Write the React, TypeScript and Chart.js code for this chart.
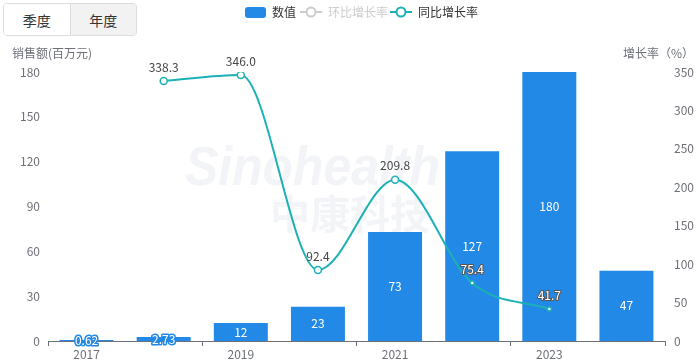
import React, { useEffect, useRef } from "react";
import { Chart, registerables } from "chart.js";

Chart.register(...registerables);

const categories = ["2017", "2018", "2019", "2020", "2021", "2022", "2023", "2024"];
const salesValues = [0.62, 2.73, 12, 23, 73, 127, 180, 47];
const yoyGrowth: (number | null)[] = [null, 338.3, 346.0, 92.4, 209.8, 75.4, 41.7, null];
const momGrowth: (number | null)[] = [null, null, null, null, null, null, null, null];
const leftAxis = { min: 0, max: 180, step: 30, title: "销售额(百万元)" };
const rightAxis = { min: 0, max: 350, step: 50, title: "增长率（%）" };
const legendLabels = ["数值", "环比增长率", "同比增长率"];
const periodButtons = ["季度", "年度"];

const BAR_COLOR = "#2389e6";
const LINE_COLOR = "#1cb1b6";
const MUTED = "#cccccc";
const FONT = "'Noto Sans CJK SC', 'Noto Sans', sans-serif";
const TICK_COLOR = "#6e7079";

const overlayPlugin = {
  id: "overlay",
  beforeDatasetsDraw(chart: any) {
    const { ctx } = chart;
    ctx.save();
    ctx.fillStyle = "rgba(210, 216, 228, 0.28)";
    ctx.textAlign = "left";
    ctx.textBaseline = "alphabetic";
    ctx.font = `italic bold 56px 'Liberation Sans', Arial, sans-serif`;
    ctx.fillText("Sinohealth", 185, 185, 255);
    ctx.font = `bold 40px ${FONT}`;
    ctx.fillText("中康科技", 270, 229, 167);
    ctx.restore();
  },
  afterDatasetsDraw(chart: any) {
    const { ctx } = chart;
    ctx.save();
    ctx.font = `12px ${FONT}`;
    ctx.textAlign = "center";
    ctx.lineJoin = "round";
    // bar labels
    const barMeta = chart.getDatasetMeta(0);
    const barTops: number[] = [];
    barMeta.data.forEach((el: any, i: number) => {
      const v = salesValues[i];
      barTops[i] = el.y;
      const cy = (el.y + el.base) / 2;
      ctx.textBaseline = "middle";
      ctx.lineWidth = 3;
      ctx.strokeStyle = BAR_COLOR;
      ctx.strokeText(String(v), el.x, cy);
      ctx.fillStyle = "#ffffff";
      ctx.fillText(String(v), el.x, cy);
    });
    // line labels
    const lineMeta = chart.getDatasetMeta(2);
    lineMeta.data.forEach((el: any, i: number) => {
      const v = yoyGrowth[i];
      if (v == null) return;
      const ly = el.y - 8;
      ctx.textBaseline = "bottom";
      if (barTops[i] !== undefined && barTops[i] < ly - 12) {
        ctx.lineWidth = 2;
        ctx.strokeStyle = "#555555";
        ctx.strokeText(v.toFixed(1), el.x, ly);
        ctx.fillStyle = "#ffffff";
        ctx.fillText(v.toFixed(1), el.x, ly);
      } else {
        ctx.fillStyle = "#444444";
        ctx.fillText(v.toFixed(1), el.x, ly);
      }
    });
    ctx.restore();
  },
  afterDraw(chart: any) {
    const { ctx } = chart;
    ctx.save();
    ctx.font = `12px ${FONT}`;
    ctx.textBaseline = "middle";
    // axis titles
    ctx.fillStyle = TICK_COLOR;
    ctx.textAlign = "left";
    ctx.fillText(leftAxis.title, 12, 53);
    ctx.textAlign = "right";
    ctx.fillText(rightAxis.title, 694, 53);
    // legend
    const ly = 12;
    ctx.textAlign = "left";
    ctx.fillStyle = BAR_COLOR;
    ctx.beginPath();
    (ctx as any).roundRect(245, 7, 21, 11, 3);
    ctx.fill();
    ctx.fillStyle = "#333333";
    ctx.fillText(legendLabels[0], 272, ly);
    const drawLineIcon = (x: number, color: string) => {
      ctx.strokeStyle = color;
      ctx.lineWidth = 2;
      ctx.beginPath();
      ctx.moveTo(x, ly);
      ctx.lineTo(x + 22, ly);
      ctx.stroke();
      ctx.beginPath();
      ctx.arc(x + 11, ly, 4.5, 0, Math.PI * 2);
      ctx.fillStyle = "#ffffff";
      ctx.fill();
      ctx.stroke();
    };
    drawLineIcon(300, MUTED);
    ctx.fillStyle = MUTED;
    ctx.fillText(legendLabels[1], 328, ly);
    drawLineIcon(390, LINE_COLOR);
    ctx.fillStyle = "#333333";
    ctx.fillText(legendLabels[2], 418, ly);
    ctx.restore();
  },
};

export default function App() {
  const canvasRef = useRef<HTMLCanvasElement | null>(null);

  useEffect(() => {
    if (!canvasRef.current) return;
    const chart = new Chart(canvasRef.current, {
      type: "bar",
      data: {
        labels: categories,
        datasets: [
          {
            type: "bar",
            label: legendLabels[0],
            data: salesValues,
            backgroundColor: BAR_COLOR,
            barPercentage: 0.7,
            categoryPercentage: 1,
            yAxisID: "y",
            order: 3,
          } as any,
          {
            type: "line",
            label: legendLabels[1],
            data: momGrowth,
            hidden: true,
            borderColor: MUTED,
            yAxisID: "y1",
            order: 2,
          } as any,
          {
            type: "line",
            label: legendLabels[2],
            data: yoyGrowth,
            borderColor: LINE_COLOR,
            borderWidth: 2,
            backgroundColor: "#ffffff",
            pointBackgroundColor: "#ffffff",
            pointBorderColor: LINE_COLOR,
            pointBorderWidth: 1.5,
            pointRadius: (c: any) => {
              const i = c.dataIndex;
              const v = yoyGrowth[i];
              if (v == null) return 0;
              return salesValues[i] / leftAxis.max > v / rightAxis.max ? 2 : 3.5;
            },
            cubicInterpolationMode: "monotone",
            yAxisID: "y1",
            order: 1,
          } as any,
        ],
      },
      options: {
        responsive: false,
        animation: false,
        events: [],
        layout: { padding: { top: 72, left: 0, right: 0, bottom: 0 } },
        plugins: { legend: { display: false }, tooltip: { enabled: false } },
        scales: {
          x: {
            type: "category",
            offset: true,
            grid: {
              offset: true,
              drawOnChartArea: false,
              drawTicks: true,
              tickLength: 5,
              color: (c: any) =>
                c.type === "tick" ? (c.index % 2 === 0 ? TICK_COLOR : "rgba(0,0,0,0)") : TICK_COLOR,
            },
            border: { display: true, color: TICK_COLOR },
            ticks: {
              autoSkip: false,
              maxRotation: 0,
              padding: 1,
              color: TICK_COLOR,
              font: { size: 12, family: FONT },
              callback: (_v: any, i: number) => (i % 2 === 0 ? categories[i] : ""),
            },
            afterFit: (s: any) => {
              s.height = 20;
            },
          },
          y: {
            position: "left",
            min: leftAxis.min,
            max: leftAxis.max,
            grid: { display: false, drawTicks: false },
            border: { display: false },
            ticks: {
              stepSize: leftAxis.step,
              padding: 8,
              color: TICK_COLOR,
              font: { size: 12, family: FONT },
            },
            afterFit: (s: any) => {
              s.width = 48;
            },
          },
          y1: {
            position: "right",
            min: rightAxis.min,
            max: rightAxis.max,
            grid: { display: false, drawTicks: false },
            border: { display: false },
            ticks: {
              stepSize: rightAxis.step,
              padding: 9,
              color: TICK_COLOR,
              font: { size: 12, family: FONT },
            },
            afterFit: (s: any) => {
              s.width = 35;
            },
          },
        },
      } as any,
      plugins: [overlayPlugin],
    });
    return () => chart.destroy();
  }, []);

  return (
    <div style={{ position: "absolute", left: 0, top: 0, width: 700, height: 361, background: "#fff" }}>
      <canvas ref={canvasRef} width={700} height={361} style={{ display: "block" }} />
      <div
        style={{
          position: "absolute",
          left: 3,
          top: 3,
          width: 134,
          height: 33,
          display: "flex",
          border: "1px solid #dcdcdc",
          borderRadius: 4,
          overflow: "hidden",
          boxSizing: "border-box",
          fontFamily: FONT,
          fontSize: 14,
          color: "#333",
        }}
      >
        {periodButtons.map((b, i) => (
          <div
            key={b}
            style={{
              flex: 1,
              display: "flex",
              alignItems: "center",
              justifyContent: "center",
              background: i === 1 ? "#f2f2f2" : "#ffffff",
              borderLeft: i === 1 ? "1px solid #dcdcdc" : "none",
            }}
          >
            {b}
          </div>
        ))}
      </div>
    </div>
  );
}
